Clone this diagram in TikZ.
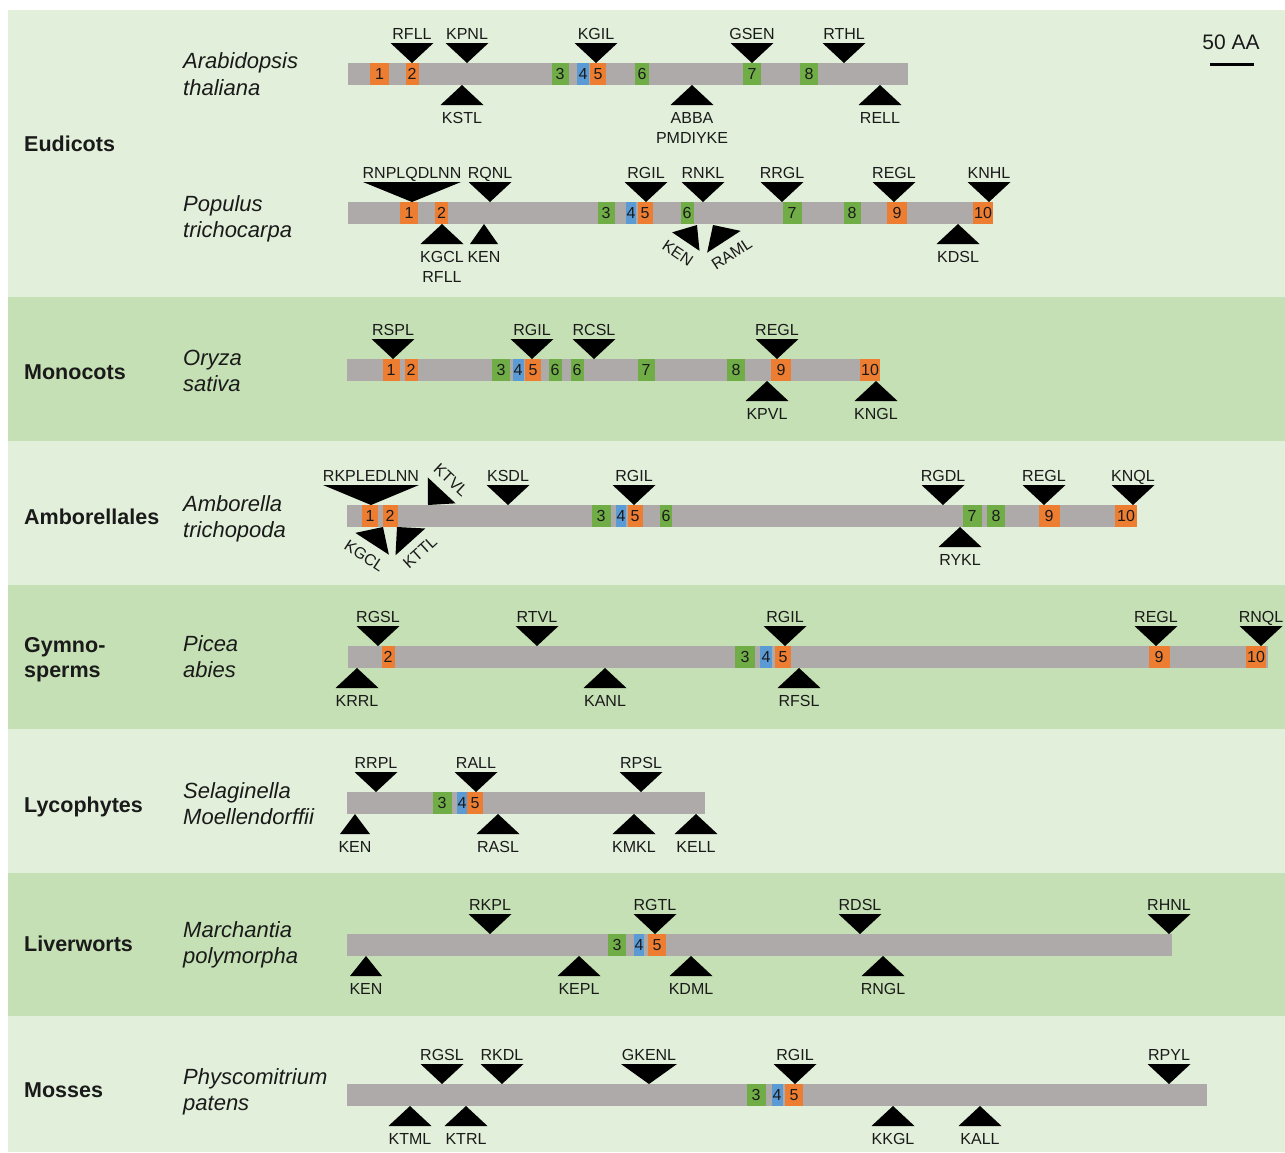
\documentclass[tikz,border=0pt]{standalone}
\usepackage{fontspec}
\setmainfont{Liberation Sans}
\definecolor{bandL}{HTML}{E2EFDA}
\definecolor{bandD}{HTML}{C5E0B4}
\definecolor{barc}{HTML}{AEAAAA}
\definecolor{orc}{HTML}{ED7D31}
\definecolor{grc}{HTML}{70AD47}
\definecolor{blc}{HTML}{5B9BD5}
\definecolor{txc}{HTML}{1A1A1A}
\newcommand{\labfont}{\fontsize{16}{18}\selectfont}
\newcommand{\PBar}[3]{\fill[barc] (#1,#2) rectangle (#3,#2+22);}
\newcommand{\PBox}[5]{\fill[#4] (#1-#3/2,#2) rectangle (#1+#3/2,#2+22); \node[num] at (#1,#2+11) {#5};}
\newcommand{\MDn}[4][43]{\fill[mk] (#2,#3) -- ++(-#1/2,-20) -- ++(#1,0) -- cycle; \node[lab] at (#2,#3-29) {#4};}
\newcommand{\MUp}[4][43]{\fill[mk] (#2,#3) -- ++(-#1/2,20) -- ++(#1,0) -- cycle; \node[lab] at (#2,#3+33) {#4};}
\newcommand{\MUpTwo}[4]{\fill[mk] (#1,#2) -- ++(-21.5,20) -- ++(43,0) -- cycle; \node[lab] at (#1,#2+33) {#3}; \node[lab] at (#1,#2+53) {#4};}
\newcommand{\MBig}[4]{\fill[mk] (#1,#2) -- ++(-#3,-20) -- ++(2*#3,0) -- cycle; \node[lab] at (#1,#2-29) {#4};}
\newcommand{\MRot}[6]{\begin{scope}[shift={(#1,#2)},rotate=#3]
  \fill[mk] (0,0) -- (-#4/2,#5*20) -- (#4/2,#5*20) -- cycle;
  \node[lab,rotate=#3] at (0,#5*34) {#6};
\end{scope}}
\begin{document}
\begin{tikzpicture}[x=1pt,y=-1pt,
  mk/.style={fill=black},
  lab/.style={font=\labfont, text=txc, inner sep=0pt, text height=11.5pt, text depth=0pt},
  num/.style={font=\labfont, text=txc, inner sep=0pt, text height=11.5pt, text depth=0pt},
  sp/.style={font=\fontsize{22}{26}\selectfont\itshape, text=txc, inner sep=0pt, anchor=base west},
  grp/.style={font=\fontsize{21.5}{26}\selectfont\bfseries, text=txc, inner sep=0pt, anchor=base west}]
\useasboundingbox (0,0) rectangle (1285,1152);
\fill[white] (0,0) rectangle (1285,1152);
\fill[bandL] (8,10) rectangle (1285,297);
\fill[bandD] (8,297) rectangle (1285,441);
\fill[bandL] (8,441) rectangle (1285,585);
\fill[bandD] (8,585) rectangle (1285,729);
\fill[bandL] (8,729) rectangle (1285,873);
\fill[bandD] (8,873) rectangle (1285,1016);
\fill[bandL] (8,1016) rectangle (1285,1152);

% group labels
\node[grp] (g1) at (24,151) {Eudicots};
\node[grp] (g2) at (24,379) {Monocots};
\node[grp] (g3) at (24,524) {Amborellales};
\node[grp] (g4a) at (24,652) {Gymno-};
\node[grp] (g4b) at (24,677) {sperms};
\node[grp] (g5) at (24,812) {Lycophytes};
\node[grp] (g6) at (24,951) {Liverworts};
\node[grp] (g7) at (24,1097) {Mosses};

% species
\node[sp] (s1a) at (183,68) {Arabidopsis};
\node[sp] (s1b) at (183,95) {thaliana};
\node[sp] (s2a) at (183,211) {Populus};
\node[sp] (s2b) at (183,237) {trichocarpa};
\node[sp] (s3a) at (183,365) {Oryza};
\node[sp] (s3b) at (183,391) {sativa};
\node[sp] (s4a) at (183,511) {Amborella};
\node[sp] (s4b) at (183,537) {trichopoda};
\node[sp] (s5a) at (183,651) {Picea};
\node[sp] (s5b) at (183,677) {abies};
\node[sp] (s6a) at (183,798) {Selaginella};
\node[sp] (s6b) at (183,824) {Moellendorffii};
\node[sp] (s7a) at (183,937) {Marchantia};
\node[sp] (s7b) at (183,963) {polymorpha};
\node[sp] (s8a) at (183,1084) {Physcomitrium};
\node[sp] (s8b) at (183,1110) {patens};

% scale bar
\node[font=\fontsize{21}{24}\selectfont, text=txc, inner sep=0pt] (scl) at (1231,42) {50 AA};
\draw[line width=3pt, black] (1210,64) -- (1254,64);

% Row A: Arabidopsis
\PBar{348}{63}{908}
\PBox{379.5}{63}{19}{orc}{1}
\PBox{412}{63}{13}{orc}{2}
\PBox{560}{63}{17}{grc}{3}
\PBox{583}{63}{12}{blc}{4}
\PBox{598}{63}{16}{orc}{5}
\PBox{642}{63}{14}{grc}{6}
\PBox{752}{63}{18}{grc}{7}
\PBox{809}{63}{18}{grc}{8}
\MDn{412}{63}{RFLL}
\MDn{467}{63}{KPNL}
\MDn{596}{63}{KGIL}
\MDn{752}{63}{GSEN}
\MDn{844}{63}{RTHL}
\MUp{462}{85}{KSTL}
\MUpTwo{692}{85}{ABBA}{PMDIYKE}
\MUp{880}{85}{RELL}

% Row B: Populus
\PBar{348}{202}{993}
\PBox{409}{202}{18}{orc}{1}
\PBox{441.5}{202}{13}{orc}{2}
\PBox{606}{202}{17}{grc}{3}
\PBox{631}{202}{10}{blc}{4}
\PBox{645}{202}{15}{orc}{5}
\PBox{687}{202}{13}{grc}{6}
\PBox{792}{202}{19}{grc}{7}
\PBox{852}{202}{17}{grc}{8}
\PBox{897}{202}{20}{orc}{9}
\PBox{983}{202}{20}{orc}{10}
\MBig{412}{202}{49}{RNPLQDLNN}
\MDn{490}{202}{RQNL}
\MDn{646}{202}{RGIL}
\MDn{703}{202}{RNKL}
\MDn{782}{202}{RRGL}
\MDn{894}{202}{REGL}
\MDn{989}{202}{KNHL}
\MUpTwo{442}{224}{KGCL}{RFLL}
\MUp[28]{484}{224}{KEN}
\MUp{958}{224}{KDSL}
\MRot{697}{225}{-34}{33}{1}{KEN}
\MRot{713}{225}{33}{40}{1}{RAML}

% Row C: Oryza
\PBar{347}{359}{880}
\PBox{391}{359}{17}{orc}{1}
\PBox{411}{359}{13}{orc}{2}
\PBox{501}{359}{18}{grc}{3}
\PBox{518}{359}{11}{blc}{4}
\PBox{533}{359}{16}{orc}{5}
\PBox{555}{359}{13}{grc}{6}
\PBox{577}{359}{13}{grc}{6}
\PBox{646}{359}{17}{grc}{7}
\PBox{736}{359}{18}{grc}{8}
\PBox{781}{359}{20}{orc}{9}
\PBox{870}{359}{20}{orc}{10}
\MDn{393}{359}{RSPL}
\MDn{532}{359}{RGIL}
\MDn{594}{359}{RCSL}
\MDn{777}{359}{REGL}
\MUp{767}{381}{KPVL}
\MUp{876}{381}{KNGL}

% Row D: Amborella
\PBar{347}{505}{1137}
\PBox{370}{505}{16}{orc}{1}
\PBox{390}{505}{15}{orc}{2}
\PBox{601}{505}{19}{grc}{3}
\PBox{621}{505}{10}{blc}{4}
\PBox{635}{505}{15}{orc}{5}
\PBox{666}{505}{12}{grc}{6}
\PBox{972}{505}{19}{grc}{7}
\PBox{996}{505}{18}{grc}{8}
\PBox{1049}{505}{21}{orc}{9}
\PBox{1126}{505}{22}{orc}{10}
\MBig{371}{505}{48}{RKPLEDLNN}
\MRot{428}{505}{-43}{38}{-1}{KTVL}
\MDn{508}{505}{KSDL}
\MDn{634}{505}{RGIL}
\MDn{943}{505}{RGDL}
\MDn{1044}{505}{REGL}
\MDn{1133}{505}{KNQL}
\MUp{960}{527}{RYKL}
\MRot{383}{527}{-33}{40}{1}{KGCL}
\MRot{397}{527}{42}{40}{1}{KTTL}

% Row E: Picea
\PBar{348}{646}{1268}
\PBox{388}{646}{13}{orc}{2}
\PBox{745}{646}{20}{grc}{3}
\PBox{766}{646}{12}{blc}{4}
\PBox{783}{646}{16}{orc}{5}
\PBox{1159}{646}{21}{orc}{9}
\PBox{1256}{646}{20}{orc}{10}
\MDn{378}{646}{RGSL}
\MDn{537}{646}{RTVL}
\MDn{785}{646}{RGIL}
\MDn{1156}{646}{REGL}
\MDn{1261}{646}{RNQL}
\MUp{357}{668}{KRRL}
\MUp{605}{668}{KANL}
\MUp{799}{668}{RFSL}

% Row F: Selaginella
\PBar{347}{792}{705}
\PBox{442}{792}{19}{grc}{3}
\PBox{462}{792}{10}{blc}{4}
\PBox{475}{792}{16}{orc}{5}
\MDn{376}{792}{RRPL}
\MDn{476}{792}{RALL}
\MDn{641}{792}{RPSL}
\MUp[30]{355}{814}{KEN}
\MUp{498}{814}{RASL}
\MUp{634}{814}{KMKL}
\MUp{696}{814}{KELL}

% Row G: Marchantia
\PBar{347}{934}{1172}
\PBox{617}{934}{18}{grc}{3}
\PBox{639}{934}{10}{blc}{4}
\PBox{657}{934}{18}{orc}{5}
\MDn{490}{934}{RKPL}
\MDn{655}{934}{RGTL}
\MDn{860}{934}{RDSL}
\MDn{1169}{934}{RHNL}
\MUp[32]{366}{956}{KEN}
\MUp{579}{956}{KEPL}
\MUp{691}{956}{KDML}
\MUp{883}{956}{RNGL}

% Row H: Physcomitrium
\PBar{347}{1084}{1207}
\PBox{756}{1084}{19}{grc}{3}
\PBox{777}{1084}{11}{blc}{4}
\PBox{794}{1084}{18}{orc}{5}
\MDn{442}{1084}{RGSL}
\MDn{502}{1084}{RKDL}
\MDn[56]{649}{1084}{GKENL}
\MDn{795}{1084}{RGIL}
\MDn{1169}{1084}{RPYL}
\MUp{410}{1106}{KTML}
\MUp{466}{1106}{KTRL}
\MUp{893}{1106}{KKGL}
\MUp{980}{1106}{KALL}
\end{tikzpicture}
\end{document}
